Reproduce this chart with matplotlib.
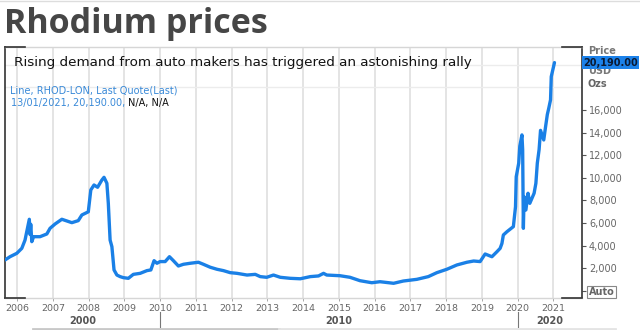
import matplotlib
matplotlib.use("Agg")
import matplotlib.pyplot as plt
from matplotlib.lines import Line2D
from matplotlib.transforms import blended_transform_factory

W, H = 640, 330

# Rhodium, London quote, USD per troy ounce (decimal year, price)
years = [
    2005.66, 2005.80, 2005.99, 2006.13, 2006.22, 2006.34, 2006.36, 2006.38, 2006.41,
    2006.46, 2006.64, 2006.83, 2006.92, 2007.06, 2007.25, 2007.39, 2007.53, 2007.71,
    2007.81, 2007.99, 2008.06, 2008.15, 2008.25, 2008.37, 2008.43, 2008.51, 2008.55,
    2008.60, 2008.65, 2008.71, 2008.79, 2008.88, 2008.97, 2009.11, 2009.25, 2009.44,
    2009.63, 2009.74, 2009.83, 2009.91, 2010.00, 2010.14, 2010.26, 2010.37, 2010.51,
    2010.65, 2010.84, 2011.07, 2011.21, 2011.40, 2011.59, 2011.77, 2011.96, 2012.15,
    2012.43, 2012.66, 2012.80, 2012.98, 2013.17, 2013.36, 2013.64, 2013.92, 2014.20,
    2014.43, 2014.57, 2014.66, 2015.03, 2015.31, 2015.59, 2015.92, 2016.15, 2016.53,
    2016.80, 2017.18, 2017.50, 2017.74, 2018.02, 2018.30, 2018.58, 2018.77, 2018.95,
    2019.09, 2019.28, 2019.42, 2019.51, 2019.56, 2019.60, 2019.70, 2019.88, 2019.94,
    2019.96, 2020.03, 2020.06, 2020.12, 2020.14, 2020.15, 2020.16, 2020.18, 2020.23,
    2020.29, 2020.34, 2020.46, 2020.51, 2020.55, 2020.60, 2020.64, 2020.73, 2020.78,
    2020.83, 2020.87, 2020.92, 2020.94, 2021.03,
]
prices = [
    2740, 3030, 3330, 3770, 4500, 6340, 5000, 5900, 4360,
    4800, 4800, 5040, 5540, 5920, 6340, 6190, 6040, 6220,
    6720, 7000, 8930, 9370, 9170, 9810, 10050, 9520, 7750,
    4500, 3920, 1860, 1410, 1270, 1180, 1120, 1470, 1560,
    1800, 1860, 2680, 2450, 2600, 2600, 3030, 2680, 2210,
    2360, 2450, 2540, 2360, 2100, 1920, 1800, 1620, 1560,
    1410, 1470, 1270, 1210, 1410, 1210, 1120, 1080, 1270,
    1330, 1560, 1410, 1350, 1210, 910, 730, 820, 680,
    880, 1030, 1270, 1620, 1920, 2300, 2540, 2650, 2600,
    3270, 3030, 3470, 3770, 4200, 4950, 5240, 5690, 7450,
    10100, 11300, 12800, 13800, 12500, 8900, 5540, 8340, 7160,
    8640, 7750, 8640, 9520, 11300, 12500, 14200, 13350, 14500,
    15600, 16150, 16900, 18950, 20190,
]

year_ticks = list(range(2006, 2022))
price_ticks = [0, 2000, 4000, 6000, 8000, 10000, 12000, 14000, 16000]
price_labels = ["Auto", "2,000", "4,000", "6,000", "8,000", "10,000", "12,000",
                "14,000", "16,000"]
grid_levels = list(range(0, 22000, 2000))
decade_labels = ["2000", "2010", "2020"]
decade_edges = [2005.66, 2010, 2020, 2021.80]
last_date = "13/01/2021"
last_price = 20190.00

LINE_BLUE = "#1a80e6"
TEXT_BLUE = "#3a8ad8"
GRAY = "#666666"


def fx(px):
    return px / W


def fy(py):
    return 1 - py / H


fig = plt.figure(figsize=(W / 100, H / 100), dpi=100)
fig.patch.set_facecolor("white")

left, right, top, bottom = 5, 582, 47, 298
ax = fig.add_axes([fx(left), fy(bottom), fx(right) - fx(left), (bottom - top) / H])
ax.set_xlim(decade_edges[0], decade_edges[-1])
ax.set_ylim(-620, 21570)

ax.plot(years, prices, color=LINE_BLUE, lw=2.4, solid_joinstyle="round",
        solid_capstyle="round", zorder=3)

# grid
ax.set_xticks(year_ticks)
ax.set_xticklabels([str(y) for y in year_ticks])
ax.set_yticks(grid_levels, minor=True)
ax.grid(True, axis="x", which="major", color="#e2e2e2", lw=1.3)
ax.grid(True, axis="y", which="minor", color="#ececec", lw=1.0)
ax.set_axisbelow(True)

ax.yaxis.tick_right()
ax.set_yticks(price_ticks)
ax.set_yticklabels(price_labels)
ax.tick_params(axis="y", which="major", direction="out", length=3, width=0.8,
               color="#555555", pad=2, labelsize=7, labelcolor=GRAY)
ax.tick_params(axis="y", which="minor", length=0)
ax.tick_params(axis="x", direction="out", length=2, width=0.6, color="#999999",
               pad=2.5, labelsize=6.8, labelcolor=GRAY)

for lab in ax.get_yticklabels():
    if lab.get_text() == "Auto":
        lab.set_fontweight("bold")
        lab.set_bbox(dict(boxstyle="square,pad=0.15", fc="white", ec="#888888", lw=0.8))

# frame: dark sides, light top/bottom with dark corners
for side in ("left", "right"):
    ax.spines[side].set_color("#333333")
    ax.spines[side].set_linewidth(1.2)
for side in ("top", "bottom"):
    ax.spines[side].set_color("#d6d6d6")
    ax.spines[side].set_linewidth(1.0)
corner = 20 / (right - left)
for (x0, x1) in ((0, corner), (1 - corner, 1)):
    for yy in (0, 1):
        ax.add_line(Line2D([x0, x1], [yy, yy], transform=ax.transAxes, color="#333333",
                           lw=1.2, clip_on=False, zorder=5))

# decade row
xt = ax.get_xaxis_transform()
for i, lab in enumerate(decade_labels):
    mid = (decade_edges[i] + decade_edges[i + 1]) / 2
    ax.text(mid, (bottom - 321.5) / (bottom - top), lab, transform=xt, ha="center",
            va="center", fontsize=7, fontweight="bold", color="#555555")
for edge in decade_edges[1:-1]:
    ax.add_line(Line2D([edge, edge], [(bottom - 312) / (bottom - top),
                                      (bottom - 327) / (bottom - top)],
                       transform=xt, color="#777777", lw=0.8, clip_on=False))

# title and notes
fig.text(fx(4), fy(24), "Rhodium prices", fontsize=24.5, fontweight="bold",
         family="Open Sans", color="#464646", va="center", ha="left")
fig.text(fx(14), fy(62.5), "Rising demand from auto makers has triggered an astonishing rally",
         fontsize=9.7, color="#111111", va="center", ha="left")
fig.text(fx(10), fy(90.5), "Line, RHOD-LON, Last Quote(Last)", fontsize=7.0,
         color=TEXT_BLUE, va="center", ha="left")
t1 = fig.text(fx(11), fy(103), f"{last_date}, {last_price:,.2f}, ", fontsize=7.0,
              color=TEXT_BLUE, va="center", ha="left")
fig.canvas.draw()
bb = t1.get_window_extent()
fig.text(bb.x1 / W, fy(103), "N/A, N/A", fontsize=7.0, color="#111111",
         va="center", ha="left")

# right-hand unit labels and last value tag
fig.text(fx(588), fy(51), "Price", fontsize=7, fontweight="bold", color="#777777",
         va="center", ha="left", zorder=4)
fig.text(fx(588), fy(71), "USD", fontsize=7, fontweight="bold", color="#777777",
         va="center", ha="left", zorder=4)
fig.text(fx(588), fy(84), "Ozs", fontsize=7, fontweight="bold", color="#666666",
         va="center", ha="left", zorder=4)
tag_tr = blended_transform_factory(fig.transFigure, ax.transData)
fig.text(fx(583), last_price, f"{last_price:,.2f}", transform=tag_tr, fontsize=7,
         fontweight="bold", color="#0b1a33", va="center", ha="left", zorder=6,
         bbox=dict(boxstyle="square,pad=0.12", fc="#1c82ea", ec="none"))

# window chrome lines
fig.add_artist(Line2D([0, 1], [fy(1), fy(1)], transform=fig.transFigure,
                      color="#dddddd", lw=1))
fig.add_artist(Line2D([fx(33), fx(279)], [fy(328.5), fy(328.5)], transform=fig.transFigure,
                      color="#c8c8c8", lw=2))
fig.add_artist(Line2D([fx(279), fx(615)], [fy(328.5), fy(328.5)], transform=fig.transFigure,
                      color="#e4e4e4", lw=2))

fig.savefig("out.png", dpi=100)
